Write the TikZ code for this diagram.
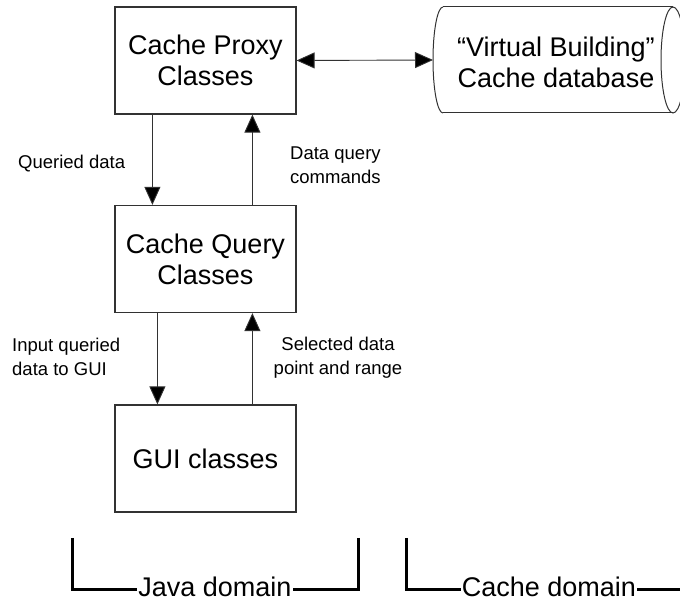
\documentclass[tikz,border=0pt]{standalone}
\usepackage{fontspec}
\setmainfont{Liberation Sans}
\usepackage{tikz}
\usetikzlibrary{arrows.meta}
\usetikzlibrary{calc}
\definecolor{boxgray}{RGB}{50,50,50}
\tikzset{>={Triangle[length=18pt,width=16pt,fill=black]}}
\tikzset{classbox/.style={draw=boxgray, line width=1.2pt, minimum width=181pt, minimum height=107pt, inner sep=0pt, align=center, font=\fontsize{27}{31}\selectfont}}
\tikzset{flow/.style={draw=boxgray, line width=0.9pt}}
\tikzset{flowlabel/.style={font=\fontsize{18.5}{24}\selectfont, inner sep=0pt}}
\tikzset{domline/.style={line width=3pt}}
\tikzset{domlabel/.style={font=\fontsize{27}{31}\selectfont, inner sep=1pt}}

\begin{document}
\begin{tikzpicture}[x=1pt,y=1pt]
\useasboundingbox (0,0) rectangle (680,605);
\clip (0,0) rectangle (680,605);

\node[classbox] (proxy) at (205.5,544.5) {Cache Proxy\\Classes};
\node[classbox] (query) at (205.5,346) {Cache Query\\Classes};
\node[classbox] (gui) at (205.5,146.5) {GUI classes};

% cache database
\draw[boxgray, line width=1pt] (443,598) -- (673,598);
\draw[boxgray, line width=1pt] (443,492) -- (673,492);
\draw[boxgray, line width=1pt] (443,598) arc[start angle=90, end angle=270, x radius=10, y radius=53];
\draw[boxgray, line width=1pt] (673,545) ellipse[x radius=12, y radius=53];
\node[align=center, font=\fontsize{27}{31}\selectfont, inner sep=0pt] (cachedb) at (556,543) {``Virtual Building''\\Cache database};
\coordinate (dbleft) at (433,545);

\draw[flow, <->] (proxy.east) -- (dbleft);
\draw[flow, ->] ([xshift=38pt]proxy.south west) -- ([xshift=38pt]query.north west);
\draw[flow, <-] ([xshift=138pt]proxy.south west) -- ([xshift=138pt]query.north west);
\draw[flow, ->] ([xshift=43pt]query.south west) -- ([xshift=43pt]gui.north west);
\draw[flow, <-] ([xshift=138pt]query.south west) -- ([xshift=138pt]gui.north west);

\node[flowlabel, anchor=west, align=left] (queried) at (18,441) {Queried data};
\node[flowlabel, anchor=west, align=left] (commands) at (290,440) {Data query\\commands};
\node[flowlabel, anchor=west, align=left] (input) at (12,248) {Input queried\\data to GUI};
\node[flowlabel, align=center] (selected) at (338,247) {Selected data\\point and range};

% domains
\node[domlabel] (javadom) at (215,18) {Java domain};
\node[domlabel] (cachedom) at (549,18) {Cache domain};
\coordinate (javaL) at (72,67);
\coordinate (javaR) at (358,67);
\coordinate (cacheL) at (406,67);
\coordinate (cacheR) at (692,67);
\draw[domline] (javaL) |- ([yshift=-3pt]javadom.west);
\draw[domline] (javaR) |- ([yshift=-3pt]javadom.east);
\draw[domline] (cacheL) |- ([yshift=-3pt]cachedom.west);
\draw[domline] (cacheR) |- ([yshift=-3pt]cachedom.east);

\end{tikzpicture}
\end{document}
